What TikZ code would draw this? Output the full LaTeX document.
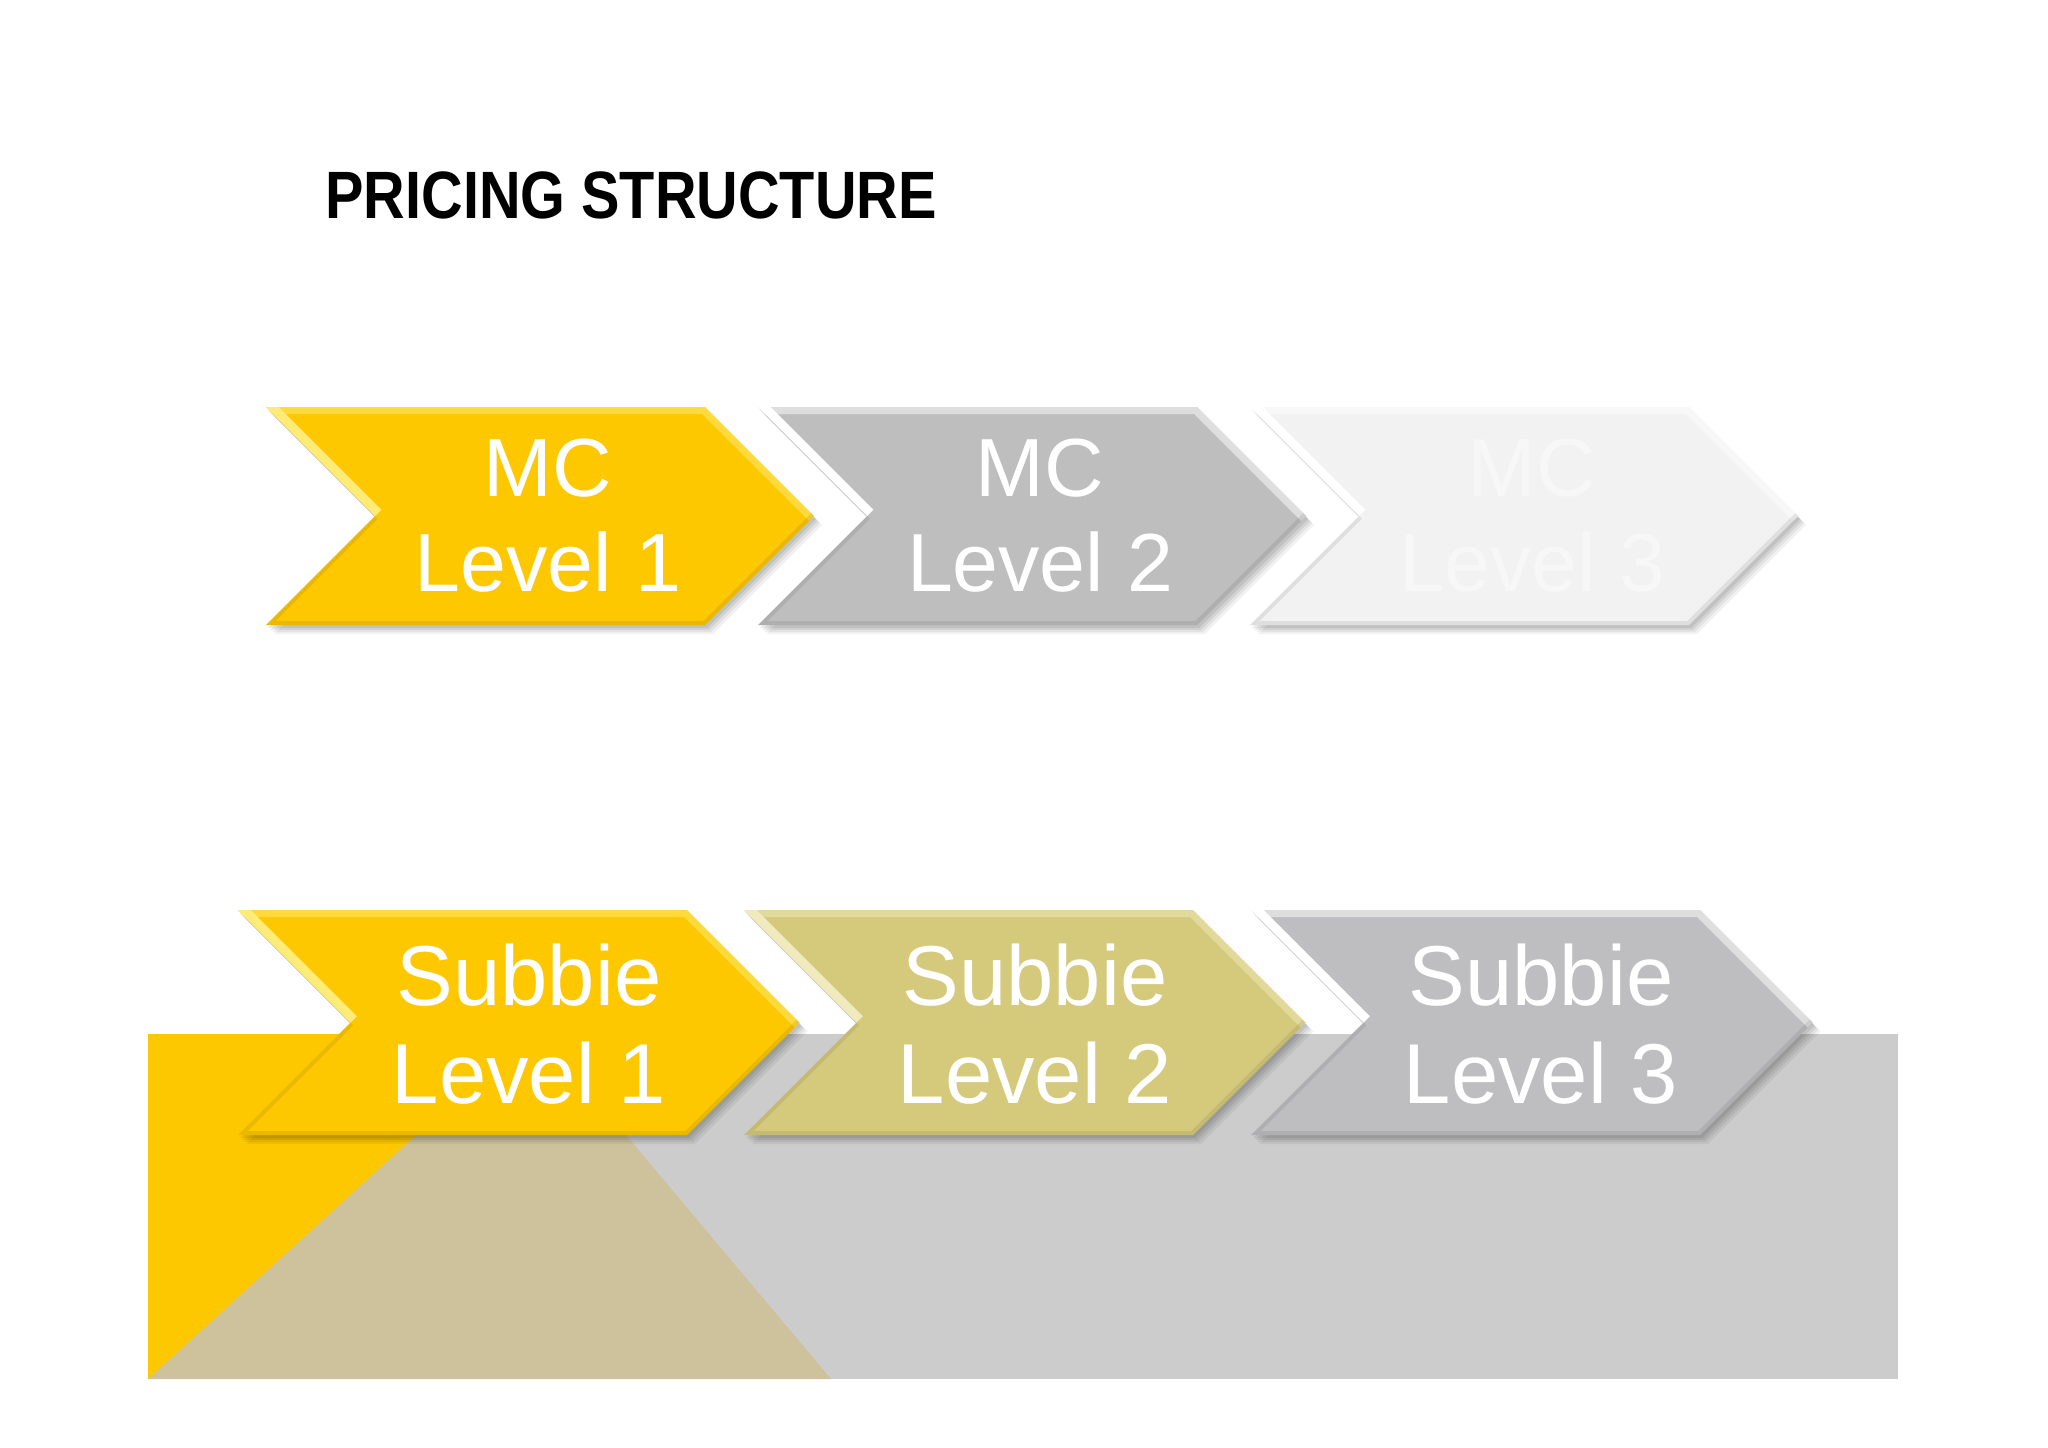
\documentclass[tikz,border=0pt]{standalone}
\usepackage{fontspec}
\setmainfont{Liberation Sans}
\definecolor{cyellow}{RGB}{254,200,0}
\definecolor{yhl}{RGB}{255,236,120}
\definecolor{mgray}{RGB}{190,190,190}
\definecolor{mlight}{RGB}{242,242,242}
\definecolor{skhaki}{RGB}{213,202,124}
\definecolor{skhl}{RGB}{240,234,190}
\definecolor{sgray}{RGB}{190,189,191}
\definecolor{bggray}{RGB}{205,204,204}
\definecolor{bgkhaki}{RGB}{205,194,155}
\newcommand\chevpath[4]{(#1,#2) -- ++(#3,0) -- ++(#4/2,#4/2) -- ++(-#4/2,#4/2) -- ++(-#3,0) -- ++(#4/2,-#4/2) -- cycle}
\newcommand\chev[6]{%
  \fill[black,opacity=0.05] \chevpath{#1+8}{#2+9}{#3}{#4};
  \fill[black,opacity=0.06] \chevpath{#1+6}{#2+7}{#3}{#4};
  \fill[black,opacity=0.07] \chevpath{#1+4}{#2+5}{#3}{#4};
  \fill[black,opacity=0.08] \chevpath{#1+2}{#2+3}{#3}{#4};
  \fill[#5] \chevpath{#1}{#2}{#3}{#4};
  \begin{scope}
    \clip \chevpath{#1}{#2}{#3}{#4};
    \draw[#6,opacity=0.5,line width=7pt] (#1,#2) -- (#1+#3,#2) -- ++(#4/2,#4/2);
    \draw[#6,line width=9pt] (#1+#4/2,#2+#4/2) -- (#1,#2);
    \draw[black,opacity=0.08,line width=4pt] (#1+#4/2,#2+#4/2) -- (#1,#2+#4) -- ++(#3,0) -- ++(#4/2,-#4/2);
  \end{scope}}
\tikzset{
  mclbl/.style={text=white,align=center,inner sep=0pt,font=\fontsize{41.25}{47.5}\selectfont},
  sublbl/.style={text=white,align=center,inner sep=0pt,font=\fontsize{42.5}{49}\selectfont},
  titlelbl/.style={anchor=base west,inner sep=0pt,font=\bfseries\fontsize{33.5}{40}\selectfont}
}
\begin{document}
\begin{tikzpicture}[x=0.5pt,y=-0.5pt]
\useasboundingbox (0,0) rectangle (2048,1447);
\fill[white] (0,0) rectangle (2048,1447);
% title
\node[titlelbl] (title) at (325,218) {\scalebox{0.86}[1]{PRICING STRUCTURE}};
% background band
\fill[bggray] (148,1034) rectangle (1898,1379);
\fill[bgkhaki] (148,1379) -- (527,1034) -- (541,1034) -- (831,1379) -- cycle;
\fill[cyellow] (148,1034) -- (527,1034) -- (148,1379) -- cycle;
% top row
\chev{266}{407}{439}{218}{cyellow}{yhl}
\chev{758}{407}{439}{218}{mgray}{white}
\chev{1250}{407}{439}{218}{mlight}{white}
\node[mclbl] (mc1) at (548,516) {MC\\Level 1};
\node[mclbl] (mc2) at (1040,516) {MC\\Level 2};
\node[mclbl,text=white!97!black] (mc3) at (1532,516) {MC\\Level 3};
% bottom row
\chev{238}{910}{449}{225}{cyellow}{yhl}
\chev{744}{910}{449}{225}{skhaki}{skhl}
\chev{1251}{910}{449}{225}{sgray}{white}
\node[sublbl] (s1) at (529,1024) {Subbie\\Level 1};
\node[sublbl] (s2) at (1035,1024) {Subbie\\Level 2};
\node[sublbl] (s3) at (1541,1024) {Subbie\\Level 3};
\end{tikzpicture}
\end{document}
